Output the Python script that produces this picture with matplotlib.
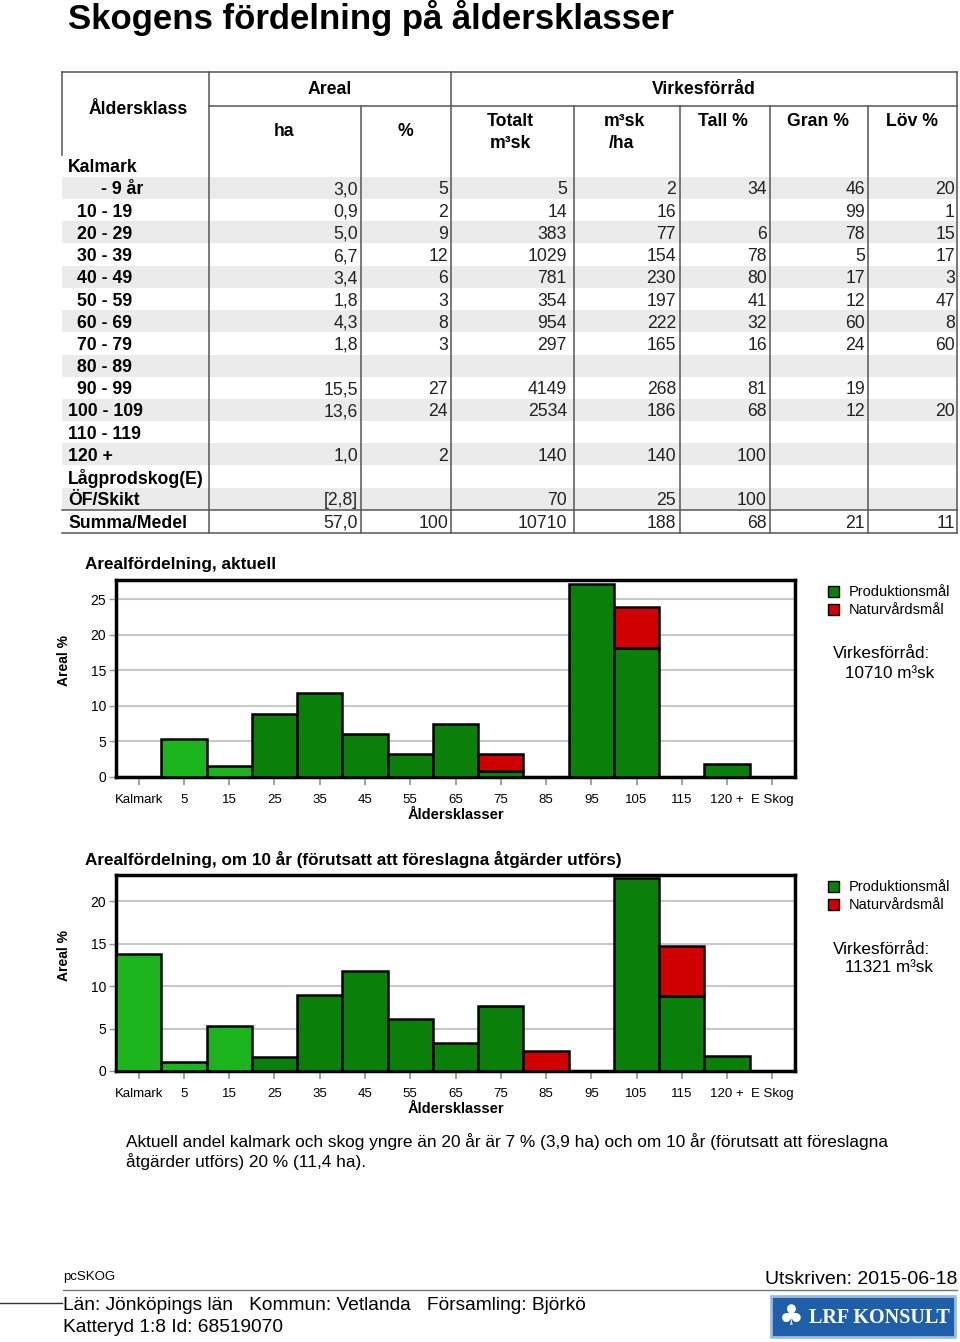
import matplotlib
matplotlib.use('Agg')
import matplotlib.pyplot as plt
from matplotlib.patches import Rectangle

plt.rcParams['font.family'] = ['Liberation Sans', 'DejaVu Sans']

# ---- table data ----
row_labels = ['- 9 år', '10 - 19', '20 - 29', '30 - 39', '40 - 49', '50 - 59',
              '60 - 69', '70 - 79', '80 - 89', '90 - 99', '100 - 109',
              '110 - 119', '120 +', 'Lågprodskog(E)', 'ÖF/Skikt', 'Summa/Medel']
ha = ['3,0', '0,9', '5,0', '6,7', '3,4', '1,8', '4,3', '1,8', '', '15,5',
      '13,6', '', '1,0', '', '[2,8]', '57,0']
areal_pct = [5, 2, 9, 12, 6, 3, 8, 3, None, 27, 24, None, 2, None, None, 100]
totalt = [5, 14, 383, 1029, 781, 354, 954, 297, None, 4149, 2534, None, 140,
          None, 70, 10710]
per_ha = [2, 16, 77, 154, 230, 197, 222, 165, None, 268, 186, None, 140,
          None, 25, 188]
tall = [34, None, 6, 78, 80, 41, 32, 16, None, 81, 68, None, 100, None, 100, 68]
gran = [46, 99, 78, 5, 17, 12, 60, 24, None, 19, 12, None, None, None, None, 21]
lov = [20, 1, 15, 17, 3, 47, 8, 60, None, None, 20, None, None, None, None, 11]

# ---- chart data ----
categories = ['Kalmark', '5', '15', '25', '35', '45', '55', '65', '75', '85',
              '95', '105', '115', '120 +', 'E Skog']
now_prod = [0, 5.3, 1.6, 8.8, 11.8, 6.0, 3.2, 7.5, 0.9, 0, 27.2, 18.2, 0, 1.8, 0]
now_nature = [0, 0, 0, 0, 0, 0, 0, 0, 2.3, 0, 0, 5.7, 0, 0, 0]
future_prod = [13.8, 1.1, 5.3, 1.6, 8.9, 11.8, 6.1, 3.3, 7.6, 0, 0, 22.7, 8.8, 1.8, 0]
future_nature = [0, 0, 0, 0, 0, 0, 0, 0, 0, 2.4, 0, 0, 5.9, 0, 0]
volume_now = 10710
volume_future = 11321

DARK_GREEN = '#0a800a'
LIGHT_GREEN = '#1cb41c'
RED = '#d00000'
LINE = '#555555'

W, H = 960, 1342
fig = plt.figure(figsize=(W / 100, H / 100), dpi=100)
page = fig.add_axes([0, 0, 1, 1])
page.set_xlim(0, W)
page.set_ylim(H, 0)
page.axis('off')

page.text(68, 18, 'Skogens fördelning på åldersklasser', fontsize=25,
          fontweight='bold', va='center', ha='left')

# ---- table ----
fs = 12.7
dy = 2  # text nudge
row_y0, row_h = 188, 22.2
col_edges = [62, 209, 361, 451, 574, 680, 770, 868, 957]
value_pad = [3, 3, 7, 4, 3, 3, 2]
top, sub, bottom = 72, 106, 533

for i in range(len(row_labels)):
    yc = row_y0 + i * row_h
    if i % 2 == 0 and i < len(row_labels) - 1:
        page.add_patch(Rectangle((62, yc - row_h / 2), 957 - 62, row_h,
                                 facecolor='#ebebeb', edgecolor='none', zorder=0))

for j, x in enumerate(col_edges):
    y_start = top if j in (0, 1, 3, 8) else sub
    y_end = 155 if j == 0 else bottom
    page.plot([x, x], [y_start, y_end], color=LINE, lw=1.1, zorder=2)
page.plot([62, 957], [top, top], color=LINE, lw=1.1)
page.plot([209, 957], [sub, sub], color=LINE, lw=1.1)
page.plot([62, 957], [bottom, bottom], color=LINE, lw=1.1)
summa_y = row_y0 + (len(row_labels) - 1) * row_h - row_h / 2
page.plot([62, 957], [summa_y, summa_y], color=LINE, lw=1.1)

hdr = dict(fontsize=fs, fontweight='bold', ha='center', va='center')
page.text(138, 108 + dy, 'Åldersklass', **hdr)
page.text(330, 88 + dy, 'Areal', **hdr)
page.text(704, 88 + dy, 'Virkesförråd', **hdr)
page.text(284, 130 + dy, 'ha', **hdr)
page.text(405, 130 + dy, '%', **hdr)
page.text(510, 120 + dy, 'Totalt', **hdr)
page.text(510, 141 + dy, 'm³sk', **hdr)
page.text(624, 120 + dy, 'm³sk', **hdr)
page.text(622, 141 + dy, '/ha', **hdr)
page.text(723, 120 + dy, 'Tall %', **hdr)
page.text(818, 120 + dy, 'Gran %', **hdr)
page.text(912, 120 + dy, 'Löv %', **hdr)
page.text(68, row_y0 - row_h + dy, 'Kalmark', fontsize=fs, fontweight='bold',
          ha='left', va='center')

value_cols = [ha, areal_pct, totalt, per_ha, tall, gran, lov]
for i, label in enumerate(row_labels):
    yc = row_y0 + i * row_h + dy
    if label.startswith('-'):
        lx = 101
    elif label[:3].isdigit():
        lx = 68
    elif label[0].isdigit():
        lx = 77
    else:
        lx = 68
    page.text(lx, yc, label, fontsize=fs, fontweight='bold', ha='left', va='center')
    for c, col in enumerate(value_cols):
        v = col[i]
        if v is None or v == '':
            continue
        page.text(col_edges[c + 2] - value_pad[c], yc, str(v), fontsize=fs,
                  ha='right', va='center', color='#222222')


# ---- charts ----
def draw_chart(y_top, y_bot, ymax, yticks, prod, nature, title, volume):
    ax = fig.add_axes([116 / W, 1 - y_bot / H, (795 - 116) / W, (y_bot - y_top) / H])
    xs = list(range(len(categories)))
    shades = [LIGHT_GREEN if k < 3 else DARK_GREEN for k in xs]
    for k in xs:
        if prod[k] > 0:
            ax.bar(k, prod[k], width=1.0, color=shades[k], edgecolor='black',
                   linewidth=1.8, zorder=3)
        if nature[k] > 0:
            ax.bar(k, nature[k], bottom=prod[k], width=1.0, color=RED,
                   edgecolor='black', linewidth=1.8, zorder=3)
    ax.set_xlim(-0.5, len(categories) - 0.5)
    ax.set_ylim(0, ymax)
    ax.set_yticks(yticks)
    ax.set_xticks(xs)
    ax.set_xticklabels(categories)
    ax.yaxis.grid(True, color='#c8c8c8', lw=1.5)
    ax.set_axisbelow(True)
    for s in ax.spines.values():
        s.set_linewidth(2.5)
    ax.tick_params(axis='x', length=6, width=1.3, color='#999999', labelsize=9.5,
                   pad=6)
    ax.tick_params(axis='y', length=5, width=1.0, color='#999999', labelsize=10,
                   pad=2)
    ax.set_xlabel('Åldersklasser', fontsize=10.5, fontweight='bold', labelpad=2)
    ax.set_ylabel('Areal %', fontsize=10, fontweight='bold')
    ax.yaxis.set_label_coords(-0.066, 0.59)

    page.text(85, y_top - 15, title, fontsize=12.3, fontweight='bold',
              ha='left', va='center')
    for n, (name, color) in enumerate([('Produktionsmål', DARK_GREEN),
                                        ('Naturvårdsmål', RED)]):
        yy = y_top + 11 + n * 18
        page.add_patch(Rectangle((828, yy - 5.5), 11, 11, facecolor=color,
                                 edgecolor='black', lw=1))
        page.text(849, yy + 1, name, fontsize=10.5, ha='left', va='center')
    page.text(833, y_top + 74, 'Virkesförråd:', fontsize=12.3, ha='left', va='center')
    page.text(845, y_top + 93, f'{volume} m³sk', fontsize=12.3, ha='left', va='center')
    return ax


draw_chart(580, 777, 27.7, [0, 5, 10, 15, 20, 25], now_prod, now_nature,
           'Arealfördelning, aktuell', volume_now)
draw_chart(875, 1071, 23.06, [0, 5, 10, 15, 20], future_prod, future_nature,
           'Arealfördelning, om 10 år (förutsatt att föreslagna åtgärder utförs)',
           volume_future)

page.text(126, 1142, 'Aktuell andel kalmark och skog yngre än 20 år är 7 % (3,9 ha) '
          'och om 10 år (förutsatt att föreslagna', fontsize=12.4, ha='left',
          va='center')
page.text(126, 1162, 'åtgärder utförs) 20 % (11,4 ha).', fontsize=12.4,
          ha='left', va='center')

# ---- footer ----
page.text(63, 1277, 'pcSKOG', fontsize=9.5, ha='left', va='center')
page.text(957, 1280, 'Utskriven: 2015-06-18', fontsize=14, ha='right', va='center')
page.plot([63, 957], [1290, 1290], color='#777777', lw=1)
page.plot([0, 62], [1303, 1303], color='#333333', lw=1)
page.text(63, 1306, 'Län: Jönköpings län   Kommun: Vetlanda   Församling: Björkö',
          fontsize=13.8, ha='left', va='center')
page.text(63, 1328, 'Katteryd 1:8 Id: 68519070', fontsize=13.8, ha='left',
          va='center')

page.add_patch(Rectangle((771, 1296), 184, 41, facecolor='#1f5ea8',
                         edgecolor='#9cbde0', lw=2))
page.text(791, 1317, '♣', fontsize=20, color='white', ha='center', va='center',
          family='DejaVu Sans')
page.text(879, 1318, 'LRF KONSULT', fontsize=14.5, color='white', fontweight='bold',
          family='Liberation Serif', ha='center', va='center')

fig.savefig('out.png', dpi=100)
